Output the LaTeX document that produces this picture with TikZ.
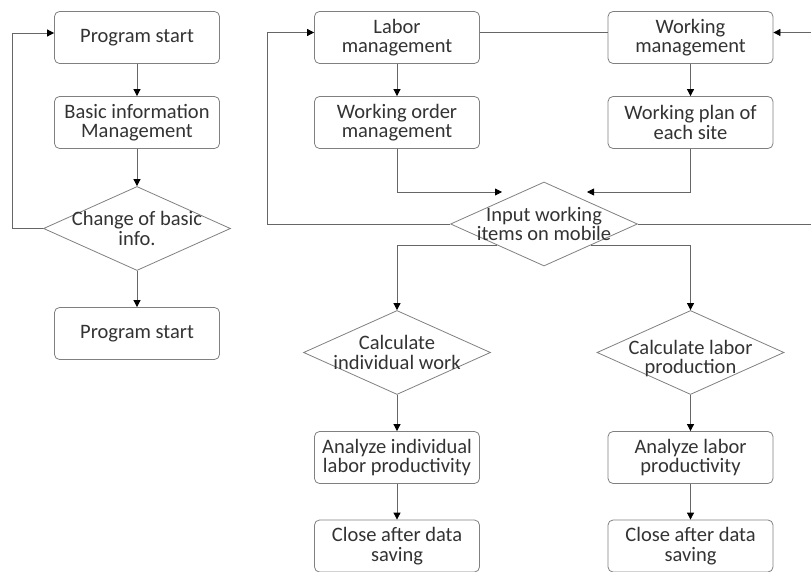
\documentclass[tikz,border=0pt]{standalone}
\usepackage{fontspec}
\setmainfont{Carlito}
\usetikzlibrary{shapes.geometric,arrows.meta}

\tikzset{
  process/.style={rectangle, rounded corners=5pt, draw=black!50, line width=0.8pt, fill=white,
    minimum width=165pt, minimum height=52pt, inner sep=0pt, align=center, text=black!80},
  decision/.style={diamond, draw=black!50, line width=0.8pt, fill=white,
    minimum width=187pt, minimum height=84pt, inner sep=0pt},
  dtext/.style={align=center, text=black!80, inner sep=0pt},
  flow/.style={draw=black!60, line width=0.8pt, -{Triangle[length=7pt,width=7pt,color=black]}},
  link/.style={draw=black!60, line width=0.8pt}
}

\begin{document}
\begin{tikzpicture}[x=1pt, y=-1pt, font=\fontsize{20.5}{19.5}\selectfont]
  \useasboundingbox (0,0) rectangle (811,572);
  % left column
  \node [process] (ps1) at (137,37.5) {Program start};
  \node [process] (basic) at (137,122.5) {Basic information\\Management};
  \node [decision, label={[dtext]center:Change of basic\\info.}] (chg) at (137,228.5) {};
  \node [process] (ps2) at (137,333.5) {Program start};
  % top of right part
  \node [process] (labor) at (397,37.5) {Labor\\management};
  \node [process] (working) at (690.5,37.5) {Working\\management};
  \node [process] (order) at (397,122.5) {Working order\\management};
  \node [process] (plan) at (690.5,122.5) {Working plan of\\each site};
  \node [decision, label={[dtext]center:Input working\\items on mobile}] (input) at (544,224) {};
  % two branches
  \node [decision, label={[dtext]center:Calculate\\individual work}] (calc1) at (397,352.5) {};
  \node [decision, label={[dtext, yshift=-6pt]center:Calculate labor\\production}] (calc2) at (690.5,352.5) {};
  \node [process] (ana1) at (397,457.5) {Analyze individual\\labor productivity};
  \node [process] (ana2) at (690.5,457.5) {Analyze labor\\productivity};
  \node [process] (close1) at (397,546) {Close after data\\saving};
  \node [process] (close2) at (690.5,546) {Close after data\\saving};
  \coordinate (inL) at (502,192);
  \coordinate (inR) at (587,192);

  \draw [flow] (ps1) -- (basic);
  \draw [flow] (basic) -- (chg);
  \draw [flow] (chg) -- (ps2);
  \draw [flow] (chg.west) -- ++(-30.5,0) |- ([yshift=4.5pt]ps1.west);

  \draw [link] ([yshift=5pt]labor.east) -- ([yshift=5pt]working.west);
  \draw [flow] (labor) -- (order);
  \draw [flow] (working) -- (plan);
  \draw [flow] (order.south) |- (inL);
  \draw [flow] (plan.south) |- (inR);
  \draw [flow] (input.west) -- ++(-183,0) |- ([yshift=5pt]labor.west);
  \draw [flow] (input.east) -- ++(175,0) |- ([yshift=5pt]working.east);

  \draw [flow] (input.south west) -| (calc1.north);
  \draw [flow] (input.south east) -| (calc2.north);
  \draw [flow] (calc1) -- (ana1);
  \draw [flow] (calc2) -- (ana2);
  \draw [flow] (ana1) -- (close1);
  \draw [flow] (ana2) -- (close2);
\end{tikzpicture}
\end{document}
